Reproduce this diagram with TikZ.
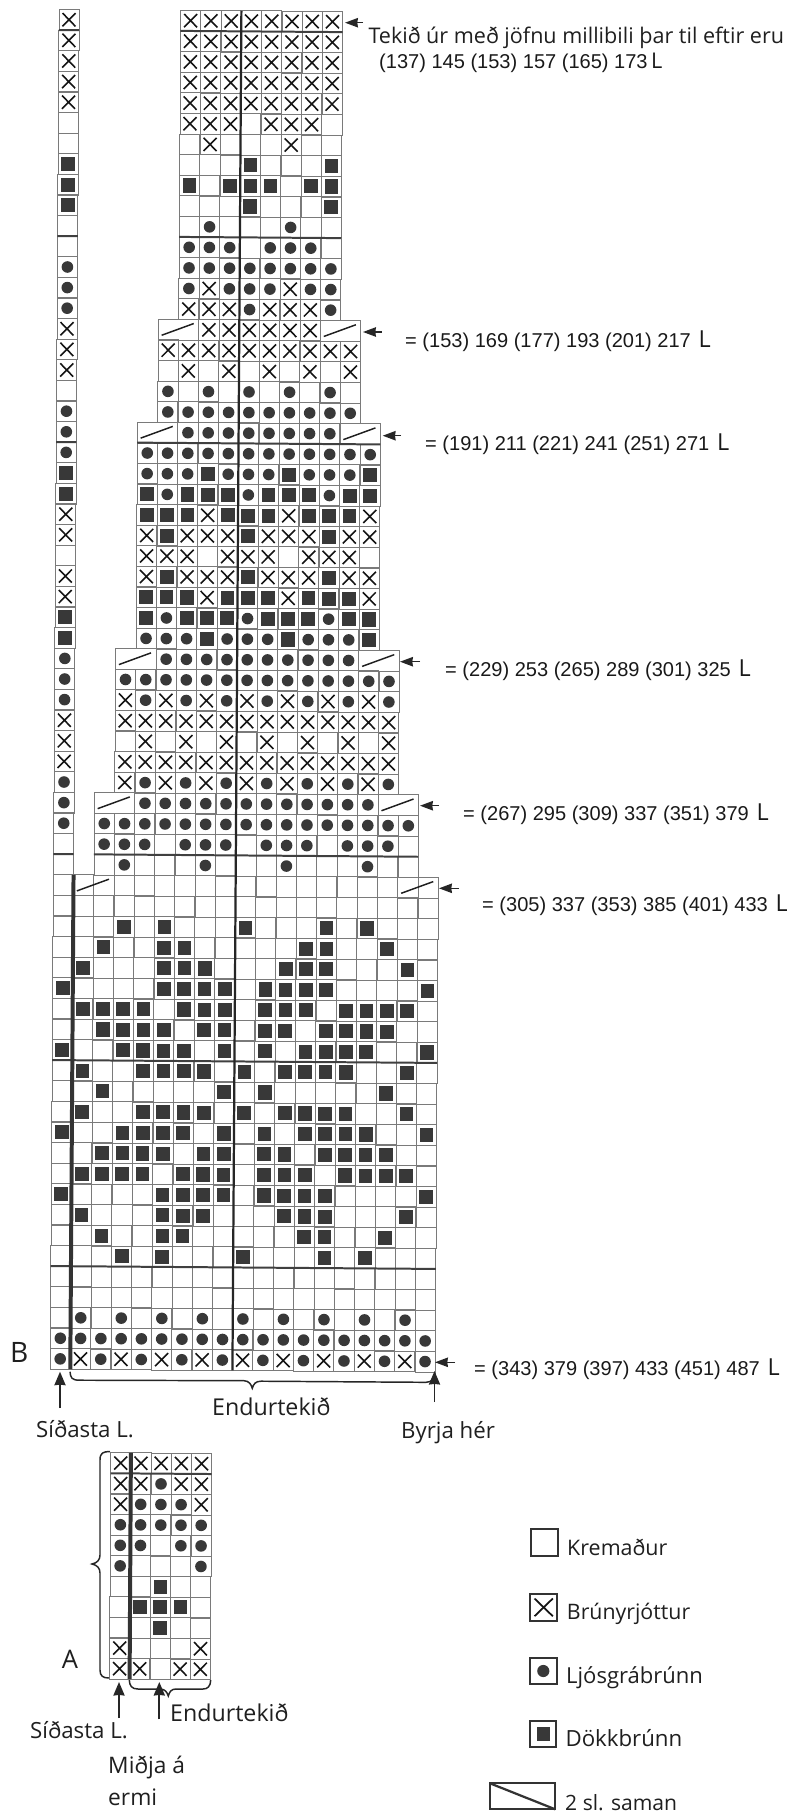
\documentclass[tikz,border=0pt]{standalone}
\usepackage{fontspec}
\setmainfont{Open Sans}
\newfontfamily\arialf{Liberation Sans}
\usetikzlibrary{arrows.meta}
\newcommand\fs[1]{\fontsize{#1}{#1}\selectfont}
\tikzset{
  cell/.style={draw=black!52,line width=.7pt},
  xmark/.style={draw=black!92,line width=1.35pt},
  dot/.style={fill=black!78},
  sq/.style={fill=black!78},
  slashline/.style={draw=black!88,line width=1.25pt},
  heavyh/.style={draw=black!75,line width=1.7pt},
  thinv/.style={draw=black!85,line width=1.9pt},
  thickv/.style={draw=black!80,line width=3.4pt},
  sidearrow/.style={draw=black!85,line width=1.3pt,-{Stealth[length=11pt,width=8pt,inset=.5pt]}},
  uparrow/.style={draw=black!85,line width=1.4pt,-{Stealth[length=11.5pt,width=9.5pt,inset=.5pt]}},
  bracepath/.style={draw=black!85,line width=1.25pt},
  legbox/.style={draw=black!80,line width=1.9pt},
  numlabel/.style={anchor=base west,inner sep=0pt,font=\arialf\fs{17.1},text=black!90},
  txt/.style={anchor=base west,inner sep=0pt,text=black!88},
}
\newcommand\symx[2]{\draw[xmark] (#1+.18,#2+.18) -- (#1+.82,#2+.82) (#1+.82,#2+.18) -- (#1+.18,#2+.82);}
\newcommand\symo[2]{\fill[dot] (#1+.5,#2+.5) circle (4.95pt);}
\newcommand\syms[2]{\fill[sq] (#1+.16,#2+.16) rectangle (#1+.84,#2+.84);}
\newcommand\syme[2]{}
\newcommand\rowcells[3]{\foreach \kind [count=\col from #2] in {#3}{\draw[cell] (\col,#1) rectangle ++(1,1); \csname sym\kind\endcsname{\col}{#1}}}
\newcommand\blankrow[1]{\foreach \col in {0,...,18}{\draw[cell] (\col,#1) rectangle ++(1,1);}}
\newcommand\sqs[2]{\foreach \col in {#2}{\syms{\col}{#1}}}
\newcommand\slashcell[2]{\draw[cell] (#1,#2) rectangle ++(2,1); \draw[slashline] (#1+.17,#2+.78) -- (#1+1.75,#2+.2);}
\newcommand\slashonly[2]{\draw[slashline] (#1+.17,#2+.78) -- (#1+1.75,#2+.2);}
\begin{document}
\begin{tikzpicture}[x=0.03cm,y=-0.03cm]
\useasboundingbox (0,0) rectangle (787,1813);
\fill[white] (0,0) rectangle (787,1813);
% ---------------- chart B
\begin{scope}[shift={(58.98,9.4)},x={(17.30pt,-0.128pt)},y={(-0.116pt,-17.584pt)}]
% strip, column 0
\rowcells{0}{0}{x}\rowcells{1}{0}{x}\rowcells{2}{0}{x}\rowcells{3}{0}{x}\rowcells{4}{0}{x}
\rowcells{5}{0}{e}\rowcells{6}{0}{e}\rowcells{7}{0}{s}\rowcells{8}{0}{s}\rowcells{9}{0}{s}
\rowcells{10}{0}{e}\rowcells{11}{0}{e}\rowcells{12}{0}{o}\rowcells{13}{0}{o}\rowcells{14}{0}{o}
\rowcells{15}{0}{x}\rowcells{16}{0}{x}\rowcells{17}{0}{x}\rowcells{18}{0}{e}\rowcells{19}{0}{o}
\rowcells{20}{0}{o}\rowcells{21}{0}{o}\rowcells{22}{0}{s}\rowcells{23}{0}{s}\rowcells{24}{0}{x}
\rowcells{25}{0}{x}\rowcells{26}{0}{e}\rowcells{27}{0}{x}\rowcells{28}{0}{x}\rowcells{29}{0}{s}
\rowcells{30}{0}{s}\rowcells{31}{0}{o}\rowcells{32}{0}{o}\rowcells{33}{0}{o}\rowcells{34}{0}{x}
\rowcells{35}{0}{x}\rowcells{36}{0}{x}\rowcells{37}{0}{o}\rowcells{38}{0}{o}\rowcells{39}{0}{o}
\rowcells{40}{0}{e}\rowcells{41}{0}{e}
% narrow top
\rowcells{0}{6}{x,x,x,x,x,x,x,x}
\rowcells{1}{6}{x,x,x,x,x,x,x,x}
\rowcells{2}{6}{x,x,x,x,x,x,x,x}
\rowcells{3}{6}{x,x,x,x,x,x,x,x}
\rowcells{4}{6}{x,x,x,x,x,x,x,x}
\rowcells{5}{6}{x,x,x,e,x,x,x,e}
\rowcells{6}{6}{e,x,e,e,e,x,e,e}
\rowcells{7}{6}{e,e,e,s,e,e,e,s}
\rowcells{8}{6}{s,e,s,s,s,e,s,s}
\rowcells{9}{6}{e,e,e,s,e,e,e,s}
\rowcells{10}{6}{e,o,e,e,e,o,e,e}
\rowcells{11}{6}{o,o,o,e,o,o,o,e}
\rowcells{12}{6}{o,o,o,o,o,o,o,o}
\rowcells{13}{6}{o,x,o,o,o,x,o,o}
\rowcells{14}{6}{x,x,x,o,x,x,x,o}
% 10 wide
\slashcell{5}{15}\rowcells{15}{7}{x,x,x,x,x,x}\slashcell{13}{15}
\rowcells{16}{5}{x,x,x,x,x,x,x,x,x,x}
\rowcells{17}{5}{e,x,e,x,e,x,e,x,e,x}
\rowcells{18}{5}{o,e,o,e,o,e,o,e,o,e}
\rowcells{19}{5}{o,o,o,o,o,o,o,o,o,o}
% 12 wide
\slashcell{4}{20}\rowcells{20}{6}{o,o,o,o,o,o,o,o}\slashcell{14}{20}
\rowcells{21}{4}{o,o,o,o,o,o,o,o,o,o,o,o}
\rowcells{22}{4}{o,o,o,s,o,o,o,s,o,o,o,s}
\rowcells{23}{4}{s,o,s,s,s,o,s,s,s,o,s,s}
\rowcells{24}{4}{s,s,s,x,s,s,s,x,s,s,s,x}
\rowcells{25}{4}{x,s,x,x,x,s,x,x,x,s,x,x}
\rowcells{26}{4}{x,x,x,e,x,x,x,e,x,x,x,e}
\rowcells{27}{4}{x,s,x,x,x,s,x,x,x,s,x,x}
\rowcells{28}{4}{s,s,s,x,s,s,s,x,s,s,s,x}
\rowcells{29}{4}{s,o,s,s,s,o,s,s,s,o,s,s}
\rowcells{30}{4}{o,o,o,s,o,o,o,s,o,o,o,s}
% 14 wide
\slashcell{3}{31}\rowcells{31}{5}{o,o,o,o,o,o,o,o,o,o}\slashcell{15}{31}
\rowcells{32}{3}{o,o,o,o,o,o,o,o,o,o,o,o,o,o}
\rowcells{33}{3}{x,o,x,o,x,o,x,o,x,o,x,o,x,o}
\rowcells{34}{3}{x,x,x,x,x,x,x,x,x,x,x,x,x,x}
\rowcells{35}{3}{e,x,e,x,e,x,e,x,e,x,e,x,e,x}
\rowcells{36}{3}{x,x,x,x,x,x,x,x,x,x,x,x,x,x}
\rowcells{37}{3}{x,o,x,o,x,o,x,o,x,o,x,o,x,o}
% 16 wide
\slashcell{2}{38}\rowcells{38}{4}{o,o,o,o,o,o,o,o,o,o,o,o}\slashcell{16}{38}
\rowcells{39}{2}{o,o,o,o,o,o,o,o,o,o,o,o,o,o,o,o}
\rowcells{40}{2}{o,o,o,e,o,o,o,e,o,o,o,e,o,o,o,e}
\rowcells{41}{2}{e,o,e,e,e,o,e,e,e,o,e,e,e,o,e,e}
% full width
\foreach \rw in {42,...,62}{\blankrow{\rw}}
\slashonly{1}{42}\slashonly{17}{42}
\sqs{44}{3,5,9,13,15}
\sqs{45}{2,5,6,12,13,16}
\sqs{46}{1,5,6,7,11,12,13,17}
\sqs{47}{0,5,6,7,8,10,11,12,13,18}
\sqs{48}{1,2,3,4,6,7,8,10,11,12,14,15,16,17}
\sqs{49}{2,3,4,5,7,8,10,11,13,14,15,16}
\sqs{50}{0,3,4,5,6,8,10,12,13,14,15,18}
\sqs{51}{1,4,5,6,7,9,11,12,13,14,17}
\sqs{52}{2,8,10,16}
\sqs{53}{1,4,5,6,7,9,11,12,13,14,17}
\sqs{54}{0,3,4,5,6,8,10,12,13,14,15,18}
\sqs{55}{2,3,4,5,7,8,10,11,13,14,15,16}
\sqs{56}{1,2,3,4,6,7,8,10,11,12,14,15,16,17}
\sqs{57}{0,5,6,7,8,10,11,12,13,18}
\sqs{58}{1,5,6,7,11,12,13,17}
\sqs{59}{2,5,6,12,13,16}
\sqs{60}{3,5,9,13,15}
\rowcells{63}{0}{e,o,e,o,e,o,e,o,e,o,e,o,e,o,e,o,e,o,e}
\rowcells{64}{0}{o,o,o,o,o,o,o,o,o,o,o,o,o,o,o,o,o,o,o}
\rowcells{65}{0}{o,x,o,x,o,x,o,x,o,x,o,x,o,x,o,x,o,x,o}
% heavy rules
\draw[heavyh] (0,1) -- (1,1) (6,1) -- (14,1) (0,11) -- (1,11) (6,11) -- (14,11)
  (0,21) -- (1,21) (4,21) -- (16,21) (0,41) -- (1,41) (2,41) -- (18,41)
  (0,51) -- (19,51) (0,61) -- (19,61);
\draw[thinv] (9,0) -- (9,66);
\draw[thickv] (1,42) -- (1,66);
\end{scope}
% ---------------- chart A
\begin{scope}[shift={(110.7,1452.7)},x={(17.24pt,-0.128pt)},y={(-0.1pt,-17.55pt)}]
\rowcells{0}{0}{x,x,x,x,x}
\rowcells{1}{0}{x,x,o,x,x}
\rowcells{2}{0}{x,o,o,o,x}
\rowcells{3}{0}{o,o,o,o,o}
\rowcells{4}{0}{o,o,e,o,o}
\rowcells{5}{0}{o,e,e,e,o}
\rowcells{6}{0}{e,e,s,e,e}
\rowcells{7}{0}{e,s,s,s,e}
\rowcells{8}{0}{e,e,s,e,e}
\rowcells{9}{0}{x,e,e,e,x}
\rowcells{10}{0}{x,x,e,x,x}
\draw[heavyh] (0,1) -- (5,1);
\draw[thickv] (1,0) -- (1,11);
\end{scope}
% ---------------- side arrows and labels
\coordinate (a0t) at (345,22.7);  \coordinate (a0f) at (363,22.7);
\coordinate (a1t) at (363,332);   \coordinate (a1f) at (381.7,332);
\coordinate (a2t) at (382.7,435.7); \coordinate (a2f) at (401,435.7);
\coordinate (a3t) at (400,661.7); \coordinate (a3f) at (420,661.7);
\coordinate (a4t) at (420,805.7); \coordinate (a4f) at (439,805.7);
\coordinate (a5t) at (439,888.3); \coordinate (a5f) at (459,888.3);
\coordinate (a6t) at (435,1362.3); \coordinate (a6f) at (455,1362.3);
\foreach \i in {0,...,6}{\draw[sidearrow] (a\i f) -- (a\i t);}
\node[txt,font=\fs{18.4}] (tek) at (368.3,43) {Tekið úr með jöfnu millibili þar til eftir eru};
\node[numlabel] (n0) at (379,68) {(137) 145 (153) 157 (165) 173\hspace{3pt}{\rmfamily\fs{18.5}L}};
\node[numlabel] (n1) at (405,347) {= (153) 169 (177) 193 (201) 217\hspace{6.5pt}{\rmfamily\fs{20}L}};
\node[numlabel] (n2) at (425,450) {= (191) 211 (221) 241 (251) 271\hspace{6.5pt}{\rmfamily\fs{20}L}};
\node[numlabel] (n3) at (445,676.5) {= (229) 253 (265) 289 (301) 325\hspace{6.5pt}{\rmfamily\fs{20}L}};
\node[numlabel] (n4) at (463,820.5) {= (267) 295 (309) 337 (351) 379\hspace{6.5pt}{\rmfamily\fs{20}L}};
\node[numlabel] (n5) at (482,911) {= (305) 337 (353) 385 (401) 433\hspace{6.5pt}{\rmfamily\fs{20}L}};
\node[numlabel] (n6) at (474,1375) {= (343) 379 (397) 433 (451) 487\hspace{6.5pt}{\rmfamily\fs{20}L}};
% ---------------- chart B bottom
\node[txt,font=\fs{24}] (labB) at (10,1362) {B};
\draw[bracepath] (70,1371.7) .. controls (70.5,1378) and (72,1380) .. (79,1380.2)
  -- (244,1380.7) .. controls (249,1381) and (251,1384) .. (252.3,1388.3)
  .. controls (253.5,1384) and (255.5,1381.2) .. (261,1381.2)
  -- (426,1382.3) .. controls (432,1382) and (434.5,1379) .. (435,1373);
\coordinate (u1t) at (60,1371.7); \coordinate (u1f) at (60,1408);
\coordinate (u2t) at (434.5,1371); \coordinate (u2f) at (434.5,1402);
\draw[uparrow] (u1f) -- (u1t);
\draw[uparrow] (u2f) -- (u2t);
\node[txt,font=\fs{19.8}] (endB) at (212,1415) {Endurtekið};
\node[txt,font=\fs{19}] (sidB) at (36,1437.7) {Síðasta L.};
\node[txt,font=\fs{19}] (byr) at (401,1438) {Byrja hér};
% ---------------- chart A surroundings
\node[txt,font=\fs{21.8}] (labA) at (61.7,1668) {A};
\draw[bracepath] (110,1451.5) .. controls (103,1451.5) and (100,1453) .. (100,1460)
  -- (100,1555) .. controls (100,1560) and (97,1563) .. (92,1564)
  .. controls (97,1565) and (100,1568) .. (100,1573)
  -- (100,1670) .. controls (100,1676) and (103,1678) .. (109,1678);
\draw[bracepath] (129.3,1680) .. controls (129.5,1686) and (132,1689) .. (138,1689)
  -- (160,1689) .. controls (165,1689) and (167,1692) .. (168.3,1696)
  .. controls (169.5,1692) and (171,1689) .. (176,1689)
  -- (203,1689) .. controls (208,1689) and (210.5,1686) .. (210.7,1680);
\coordinate (v1t) at (119,1682); \coordinate (v1f) at (119,1718);
\coordinate (v2t) at (159.3,1682); \coordinate (v2f) at (159.3,1719.3);
\draw[uparrow] (v1f) -- (v1t);
\draw[uparrow] (v2f) -- (v2t);
\node[txt,font=\fs{19.8}] (endA) at (170,1721.7) {Endurtekið};
\node[txt,font=\fs{19}] (sidA) at (30,1738) {Síðasta L.};
\node[txt,font=\fs{19.4}] (mid) at (108,1773) {Miðja á};
\node[txt,font=\fs{19.4}] (erm) at (108,1805) {ermi};
% ---------------- legend
\draw[legbox] (531,1529) rectangle (558.3,1555.7);
\draw[legbox] (530,1594) rectangle (557.3,1620.7);
\draw[xmark,line width=1.5pt] (534.5,1598.5) -- (552.8,1616.2) (552.8,1598.5) -- (534.5,1616.2);
\draw[legbox] (530,1657.7) rectangle (556.7,1684.3);
\fill[dot] (543.3,1671) circle (5.2pt);
\draw[legbox] (530,1720.7) rectangle (556,1747.3);
\fill[sq] (536.7,1727.3) rectangle (550,1740.7);
\draw[legbox] (490,1783.3) rectangle (555.3,1809.3);
\draw[legbox] (490,1783.3) -- (555.3,1809.3);
\node[txt,font=\fs{18.3}] (leg1) at (567,1555) {Kremaður};
\node[txt,font=\fs{18.2}] (leg2) at (566.7,1619.3) {Brúnyrjóttur};
\node[txt,font=\fs{18.8}] (leg3) at (566,1683.3) {Ljósgrábrúnn};
\node[txt,font=\fs{19}] (leg4) at (565.3,1746.7) {Dökkbrúnn};
\node[txt,font=\fs{18}] (leg5) at (565,1810) {2 sl. saman};
\end{tikzpicture}
\end{document}
